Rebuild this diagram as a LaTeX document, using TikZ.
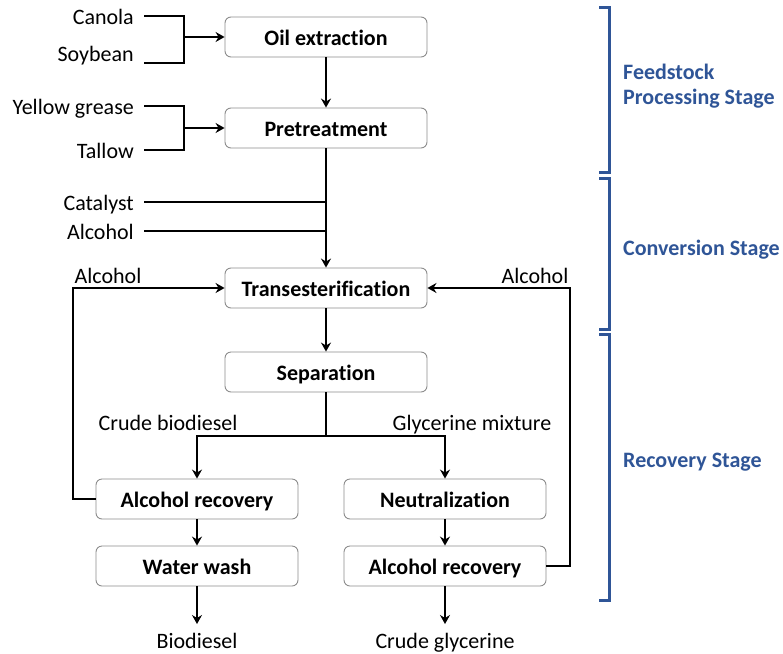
\documentclass[tikz,border=0pt]{standalone}
\usepackage{fontspec}
\setmainfont{Carlito}[Ligatures=NoCommon]
\usetikzlibrary{arrows.meta}
\definecolor{stageblue}{RGB}{47,85,151}
\begin{document}
\begin{tikzpicture}[x=1pt,y=-1pt,
  proc/.style={draw=black!45, line width=0.9pt, rounded corners=6pt, minimum width=202pt, minimum height=40pt, font=\bfseries\fontsize{22}{26}\selectfont, inner sep=0pt, text height=18pt, text depth=2pt},
  lbl/.style={font=\fontsize{22}{26}\selectfont, inner sep=0pt, text height=18pt, text depth=2pt},
  flow/.style={line width=1.8pt, -{Stealth[length=9pt,width=10pt,inset=3pt]}},
  plain/.style={line width=1.8pt},
  brk/.style={draw=stageblue, line width=3pt},
  stage/.style={font=\bfseries\fontsize{22}{25}\selectfont, text=stageblue, align=left, anchor=west, inner sep=0pt}]

\useasboundingbox (0,0) rectangle (783,653);

% process boxes
\node[proc] (oil) at (326,37) {Oil extraction};
\node[proc] (pre) at (326,128) {Pretreatment};
\node[proc] (trans) at (326,288) {Transesterification};
\node[proc] (sep) at (326,372) {Separation};
\node[proc] (arL) at (197,499) {Alcohol recovery};
\node[proc] (ww) at (197,566) {Water wash};
\node[proc] (neu) at (445,499) {Neutralization};
\node[proc] (arR) at (445,566) {Alcohol recovery};

% labels
\node[lbl, anchor=east] (canola) at (134,16) {Canola};
\node[lbl, anchor=east] (soy) at (134,53) {Soybean};
\node[lbl, anchor=east] (yg) at (134,106) {Yellow grease};
\node[lbl, anchor=east] (tallow) at (134,150) {Tallow};
\node[lbl, anchor=east] (cat) at (134,202) {Catalyst};
\node[lbl, anchor=east] (alc) at (134,231) {Alcohol};
\node[lbl] (alcL) at (108,275) {Alcohol};
\node[lbl] (alcR) at (535,275) {Alcohol};
\node[lbl] (crude) at (168,422) {Crude biodiesel};
\node[lbl] (glymix) at (472,422) {Glycerine mixture};
\node[lbl] (bio) at (197,640) {Biodiesel};
\node[lbl] (cglyc) at (445,640) {Crude glycerine};

% coordinates for free ends
\coordinate (canS) at (144,16);
\coordinate (soyS) at (144,63);
\coordinate (ygS) at (144,106);
\coordinate (talS) at (144,150);
\coordinate (brA) at (184,0);
\coordinate (catS) at (144,202);
\coordinate (alcS) at (144,231);
\coordinate (loopL) at (73,0);
\coordinate (loopR) at (570,0);
\coordinate (split) at (326,436);
\coordinate (bioT) at (197,624);
\coordinate (cglT) at (445,624);

% feedstock brackets
\draw[plain] (canS) -- (canS -| brA) -- (soyS -| brA) -- (soyS);
\draw[flow] (oil.west -| brA) -- (oil.west);
\draw[plain] (ygS) -- (ygS -| brA) -- (talS -| brA) -- (talS);
\draw[flow] (pre.west -| brA) -- (pre.west);

% main flow
\draw[flow] (oil) -- (pre);
\draw[flow] (pre.south) -- (trans.north);
\draw[plain] (catS) -- (catS -| pre.south);
\draw[plain] (alcS) -- (alcS -| pre.south);
\draw[flow] (trans) -- (sep);
\draw[plain] (sep.south) -- (split);
\draw[flow] (split) -| (arL.north);
\draw[flow] (split) -| (neu.north);
\draw[flow] (arL) -- (ww);
\draw[flow] (neu) -- (arR);
\draw[flow] (ww.south) -- (bioT);
\draw[flow] (arR.south) -- (cglT);

% recycle loops
\draw[flow] (arL.west) -- (arL.west -| loopL) |- (trans.west);
\draw[flow] (arR.east) -- (arR.east -| loopR) |- (trans.east);

% stage brackets
\draw[brk] (599,7) -- (609,7) -- (609,172) -- (599,172);
\draw[brk] (599,178) -- (609,178) -- (609,329) -- (599,329);
\draw[brk] (599,334) -- (609,334) -- (609,600) -- (599,600);
\node[stage] (s1) at (623,86) {Feedstock\\Processing Stage};
\node[stage] (s2) at (623,250) {Conversion Stage};
\node[stage] (s3) at (623,462) {Recovery Stage};
\end{tikzpicture}
\end{document}
